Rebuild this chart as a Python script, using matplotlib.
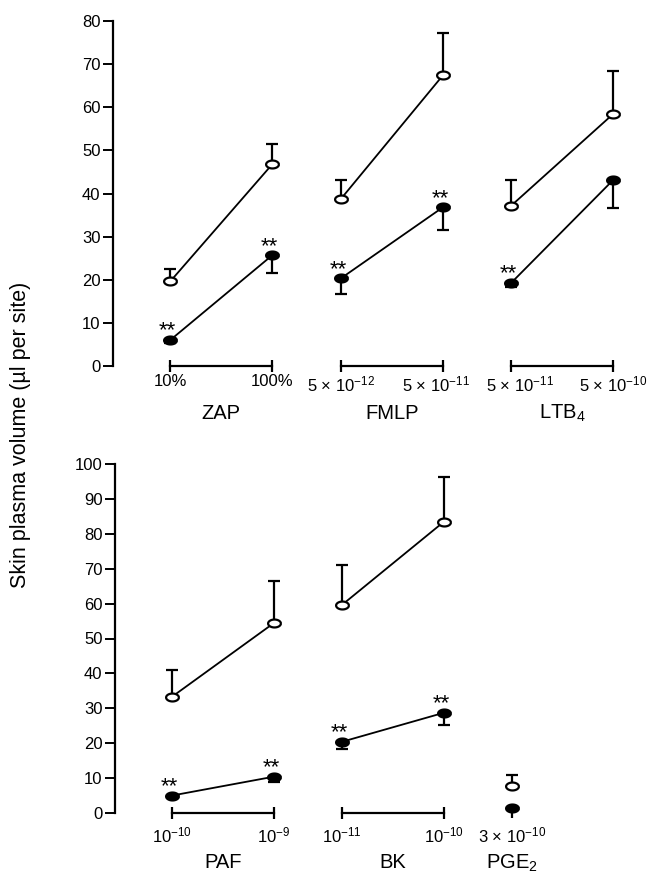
import matplotlib
matplotlib.use('Agg')
import matplotlib.pyplot as plt
import matplotlib.transforms as mtransforms
import numpy as np
from matplotlib.path import Path

plt.rcParams['font.family'] = ['Liberation Sans', 'DejaVu Sans']
plt.rcParams['mathtext.default'] = 'regular'

# top panel
groups_top = ['ZAP', 'FMLP', 'LTB$_4$']
doses_top = [['10%', '100%'],
             ['5 × 10$^{-12}$', '5 × 10$^{-11}$'],
             ['5 × 10$^{-11}$', '5 × 10$^{-10}$']]
ctrl_top = [[19.6, 46.8], [38.7, 67.4], [37.2, 58.5]]
ctrl_top_err = [[2.8, 4.6], [4.5, 9.8], [6.0, 9.8]]
treat_top = [[6.0, 25.7], [20.3, 36.8], [19.3, 43.2]]
treat_top_err = [[0.7, 4.1], [3.5, 5.3], [0.9, 6.6]]
stars_top = [[True, True], [True, True], [True, False]]

# bottom panel
groups_bot = ['PAF', 'BK', 'PGE$_2$']
doses_bot = [['10$^{-10}$', '10$^{-9}$'],
             ['10$^{-11}$', '10$^{-10}$'],
             ['3 × 10$^{-10}$']]
ctrl_bot = [[33.3, 54.4], [59.6, 83.4], [7.7]]
ctrl_bot_err = [[7.7, 12.2], [11.5, 13.0], [3.2]]
treat_bot = [[5.0, 10.4], [20.4, 28.7], [1.3]]
treat_bot_err = [[0.5, 1.4], [2.2, 3.5], [2.7]]
stars_bot = [[True, True], [True, True], [False]]

GROUP_STEP = 1.67
XLIM = (-0.56, 4.6)

theta = np.linspace(0, 2 * np.pi, 64)
ELLIPSE = Path(np.column_stack([np.cos(theta), 0.62 * np.sin(theta)]))


def draw_panel(ax, groups, doses, ctrl, ctrl_err, treat, treat_err, stars,
               ymax, label_pad, name_offset):
    ticks, labels = [], []
    for g, name in enumerate(groups):
        xs = [g * GROUP_STEP + i for i in range(len(doses[g]))]
        zeros = [0] * len(xs)
        ax.plot(xs, ctrl[g], color='black', lw=1.3, zorder=2)
        ax.plot(xs, treat[g], color='black', lw=1.3, zorder=2)
        ax.errorbar(xs, ctrl[g], yerr=[zeros, ctrl_err[g]], fmt='none',
                    ecolor='black', elinewidth=1.6, capsize=4, capthick=1.6,
                    zorder=2, clip_on=False)
        # single PGE2 point has no cap on its lower bar
        ax.errorbar(xs, treat[g], yerr=[treat_err[g], zeros], fmt='none',
                    ecolor='black', elinewidth=1.6,
                    capsize=4 if len(xs) > 1 else 0, capthick=1.6,
                    zorder=2, clip_on=False)
        ax.plot(xs, ctrl[g], ls='none', marker=ELLIPSE, ms=9.2,
                mfc='white', mec='black', mew=1.6, zorder=3, clip_on=False)
        ax.plot(xs, treat[g], ls='none', marker=ELLIPSE, ms=9.2,
                mfc='black', mec='black', mew=1.6, zorder=3, clip_on=False)
        for x, y, s in zip(xs, treat[g], stars[g]):
            if s:
                ax.annotate('**', (x, y), xytext=(-2, 2.5),
                            textcoords='offset points', ha='center',
                            va='baseline', fontsize=16)
        if len(xs) > 1:
            ax.plot([xs[0], xs[-1]], [0, 0], color='black', lw=1.6,
                    marker='|', ms=8, mew=1.6, clip_on=False, zorder=2)
        ticks += xs
        labels += doses[g]
        ax.annotate(name, (np.mean(xs), 0), xycoords=('data', 'axes fraction'),
                    xytext=(0, -name_offset), textcoords='offset points',
                    ha='center', va='center', fontsize=14.5)
    ax.set_xlim(*XLIM)
    ax.set_ylim(0, ymax)
    ax.set_yticks(np.arange(0, ymax + 1, 10))
    ax.set_xticks(ticks, labels)
    ax.tick_params(axis='x', length=0, pad=label_pad, labelsize=12)
    ax.tick_params(axis='y', length=7, width=1.4, pad=2, labelsize=12)
    for side in ['top', 'right', 'bottom']:
        ax.spines[side].set_visible(False)
    ax.spines['left'].set_linewidth(1.6)


fig = plt.figure(figsize=(6.54, 8.76), dpi=100)
ax_top = fig.add_axes([113 / 654, 1 - 366 / 876, 527 / 654, 345 / 876])
ax_bot = fig.add_axes([115 / 654, 1 - 813 / 876, 525 / 654, 349 / 876])

draw_panel(ax_top, groups_top, doses_top, ctrl_top, ctrl_top_err,
           treat_top, treat_top_err, stars_top, 80, 6, 34)
draw_panel(ax_bot, groups_bot, doses_bot, ctrl_bot, ctrl_bot_err,
           treat_bot, treat_bot_err, stars_bot, 100, 9, 36)

# nudge the two crowded labels between FMLP and LTB4 apart
for lab, dx in zip(ax_top.get_xticklabels()[3:5], [-5, 6]):
    lab.set_transform(lab.get_transform() + mtransforms.ScaledTranslation(
        dx / 72, 0, fig.dpi_scale_trans))

fig.text(0.032, 1 - 435 / 876, 'Skin plasma volume (µl per site)',
         rotation=90, ha='center', va='center', fontsize=15.5)

fig.savefig('out.png', dpi=100)
